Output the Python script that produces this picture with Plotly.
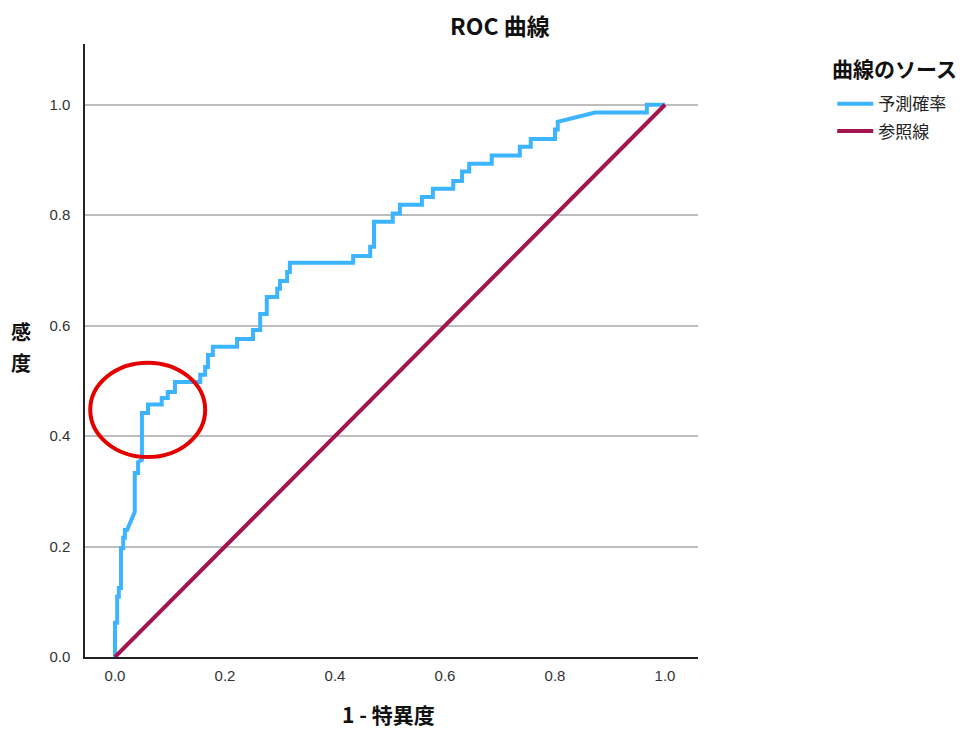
import plotly.graph_objects as go

# ROC curve of the predicted probability (1 - specificity, sensitivity)
fpr = [0.000, 0.000, 0.004, 0.004, 0.007, 0.007, 0.011, 0.011, 0.015, 0.015,
       0.018, 0.018, 0.022, 0.033, 0.036, 0.036, 0.042, 0.042, 0.049, 0.049,
       0.060, 0.060, 0.085, 0.085, 0.096, 0.096, 0.109, 0.109, 0.155, 0.155,
       0.164, 0.164, 0.169, 0.169, 0.178, 0.178, 0.222, 0.222, 0.251, 0.251,
       0.264, 0.264, 0.276, 0.276, 0.295, 0.295, 0.300, 0.300, 0.313, 0.313,
       0.318, 0.318, 0.433, 0.433, 0.464, 0.464, 0.471, 0.471, 0.505, 0.505,
       0.518, 0.518, 0.558, 0.558, 0.578, 0.578, 0.615, 0.615, 0.631, 0.631,
       0.644, 0.644, 0.685, 0.685, 0.736, 0.736, 0.756, 0.756, 0.800, 0.800,
       0.805, 0.805, 0.873, 0.967, 0.967, 1.000]
tpr = [0.000, 0.062, 0.062, 0.109, 0.109, 0.125, 0.125, 0.197, 0.197, 0.216,
       0.216, 0.230, 0.230, 0.257, 0.263, 0.333, 0.333, 0.353, 0.357, 0.442,
       0.442, 0.457, 0.457, 0.469, 0.469, 0.480, 0.480, 0.498, 0.498, 0.511,
       0.511, 0.525, 0.525, 0.547, 0.547, 0.562, 0.562, 0.576, 0.576, 0.592,
       0.592, 0.621, 0.621, 0.652, 0.652, 0.667, 0.667, 0.681, 0.681, 0.697,
       0.697, 0.714, 0.714, 0.726, 0.726, 0.743, 0.743, 0.788, 0.788, 0.803,
       0.803, 0.819, 0.819, 0.833, 0.833, 0.848, 0.848, 0.862, 0.862, 0.879,
       0.879, 0.893, 0.893, 0.908, 0.908, 0.924, 0.924, 0.938, 0.938, 0.955,
       0.955, 0.969, 0.986, 0.986, 1.000, 1.000]

# Diagonal reference line
ref_x = [0.0, 1.0]
ref_y = [0.0, 1.0]

tick_vals = [0.0, 0.2, 0.4, 0.6, 0.8, 1.0]
tick_text = ["0.0", "0.2", "0.4", "0.6", "0.8", "1.0"]

# Highlight ellipse around the early steep rise
ellipse_x = [-0.045, 0.164]
ellipse_y = [0.362, 0.533]

FONT = "Liberation Sans, Arial, Noto Sans CJK JP, sans-serif"
CJK = "Noto Sans CJK JP, sans-serif"
BLUE = "#3DB4FF"
CRIMSON = "#A3154F"

fig = go.Figure()
fig.add_trace(go.Scatter(x=fpr, y=tpr, mode="lines", name="予測確率",
                         legendgroup="a", line=dict(color=BLUE, width=4)))
fig.add_trace(go.Scatter(x=ref_x, y=ref_y, mode="lines", name="参照線",
                         legendgroup="b", line=dict(color=CRIMSON, width=4)))

fig.add_shape(type="circle", xref="x", yref="y",
              x0=ellipse_x[0], x1=ellipse_x[1], y0=ellipse_y[0], y1=ellipse_y[1],
              line=dict(color="#E50000", width=4))

fig.update_layout(
    width=960, height=729,
    paper_bgcolor="white", plot_bgcolor="white",
    margin=dict(l=85, r=262, t=44, b=72, autoexpand=False),
    font=dict(family=FONT, size=15, color="#222"),
    showlegend=True,
    legend=dict(
        x=1.219, xanchor="left", y=0.931, yanchor="top",
        font=dict(family=CJK, size=17, color="#222"),
        traceorder="grouped", tracegroupgap=2, itemwidth=36,
        bgcolor="rgba(0,0,0,0)",
    ),
    xaxis=dict(range=[-0.0545, 1.06], tickvals=tick_vals, ticktext=tick_text,
               showgrid=False, zeroline=False, showline=True, linecolor="#222",
               linewidth=1.5, ticks="", ticklabelstandoff=4,
               tickfont=dict(size=15, color="#333")),
    yaxis=dict(range=[0, 1.11], tickvals=tick_vals, ticktext=tick_text,
               showgrid=True, gridcolor="#BDBDBD", gridwidth=1.5, zeroline=False,
               showline=True, linecolor="#222", linewidth=1.5, ticks="",
               ticklabelstandoff=10, tickfont=dict(size=15, color="#333")),
    annotations=[
        dict(text="<b>ROC 曲線</b>", xref="paper", yref="paper",
             x=0.677, y=1.0, yshift=19, xanchor="center", yanchor="middle",
             showarrow=False, font=dict(family=CJK, size=23, color="#111")),
        dict(text="<b>曲線のソース</b>", xref="paper", yref="paper",
             x=1.215, y=1.0, yshift=-24, xanchor="left", yanchor="middle",
             showarrow=False, font=dict(family=CJK, size=21, color="#111")),
        dict(text="<b>感</b>", xref="paper", yref="paper",
             x=0, xshift=-64, y=0.531, xanchor="center", yanchor="middle",
             showarrow=False, borderpad=0, font=dict(family=CJK, size=20, color="#111")),
        dict(text="<b>度</b>", xref="paper", yref="paper",
             x=0, xshift=-64, y=0.481, xanchor="center", yanchor="middle",
             showarrow=False, borderpad=0, font=dict(family=CJK, size=20, color="#111")),
        dict(text="<b>1 - 特異度</b>", xref="paper", yref="paper",
             x=0.495, y=0, yshift=-57, xanchor="center", yanchor="middle",
             showarrow=False, font=dict(family=CJK, size=21, color="#111")),
    ],
)

fig.write_html("out.html")
